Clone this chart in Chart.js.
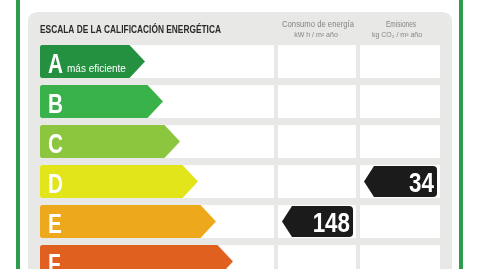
<!DOCTYPE html>
<html>
<head>
<meta charset="utf-8">
<script src="https://cdn.jsdelivr.net/npm/chart.js@4.4.1/dist/chart.umd.min.js"></script>
<style>
  html, body { margin: 0; padding: 0; background: #fff; overflow: hidden; }
  canvas { display: block; }
</style>
</head>
<body>
<canvas id="etiqueta" width="482" height="300"></canvas>
<script>
// Datos de la etiqueta
var clases = ['A', 'B', 'C', 'D', 'E', 'F'];
var longitudFlecha = [105, 123, 140, 158, 176, 193]; // largo de cada flecha
var consumo = [null, null, null, null, 148, null];   // kW h / m² año
var emisiones = [null, null, null, 34, null, null];  // kg CO2 / m² año

var coloresClase = ['#23913f', '#39b24a', '#8cc63e', '#e2e51a', '#eea81c', '#e0611f'];
var fuente = '"Liberation Sans", Arial, sans-serif';

// columnas de la tabla (x izquierda, x derecha)
var columnas = [[40, 274], [278, 356], [360, 440]];

function redondeado(ctx, x, y, w, h, r) {
    ctx.beginPath();
    ctx.moveTo(x + r, y);
    ctx.lineTo(x + w - r, y);
    ctx.quadraticCurveTo(x + w, y, x + w, y + r);
    ctx.lineTo(x + w, y + h);
    ctx.lineTo(x, y + h);
    ctx.lineTo(x, y + r);
    ctx.quadraticCurveTo(x, y, x + r, y);
    ctx.closePath();
}

// texto comprimido en horizontal (letra condensada)
function textoEstrecho(ctx, texto, x, y, factor) {
    ctx.save();
    ctx.translate(x, y);
    ctx.scale(factor, 1);
    ctx.fillText(texto, 0, 0);
    ctx.restore();
}

var dibujoEtiqueta = {
    id: 'dibujoEtiqueta',
    beforeDatasetsDraw: function (chart) {
        var ctx = chart.ctx;
        var yScale = chart.scales.y;
        var meta = chart.getDatasetMeta(0);
        ctx.save();
        // lineas verdes del marco
        ctx.fillStyle = '#2e9c4b';
        ctx.fillRect(16, 0, 4, chart.height);
        ctx.fillRect(459, 0, 4, chart.height);
        // panel gris
        ctx.fillStyle = '#e8e8e6';
        redondeado(ctx, 28, 12, 424, chart.height, 10);
        ctx.fill();
        // titulo
        ctx.fillStyle = '#2a2a2a';
        ctx.textBaseline = 'middle';
        ctx.textAlign = 'left';
        ctx.font = 'bold 10px ' + fuente;
        ctx.fillText('ESCALA DE LA CALIFICACIÓN ENERGÉTICA', 40, 30, 181);
        // cabeceras
        ctx.fillStyle = '#858585';
        ctx.textAlign = 'center';
        ctx.font = '9.5px ' + fuente;
        ctx.fillText('Consumo de energía', 318, 24, 72);
        ctx.fillText('Emisiones', 401, 24, 30);
        ctx.font = '7px ' + fuente;
        ctx.fillText('kW h / m² año', 316, 35, 44);
        ctx.fillText('kg CO₂ / m² año', 397, 35, 51);
        // celdas blancas
        ctx.fillStyle = '#ffffff';
        clases.forEach(function (c, i) {
            var yc = yScale.getPixelForValue(i);
            var h = meta.data[i].height;
            columnas.forEach(function (col) {
                ctx.fillRect(col[0], yc - h / 2, col[1] - col[0], h);
            });
        });
        ctx.restore();
    },
    afterDatasetsDraw: function (chart) {
        var ctx = chart.ctx;
        var yScale = chart.scales.y;
        var meta = chart.getDatasetMeta(0);
        ctx.save();
        // flechas de clase
        meta.data.forEach(function (bar, i) {
            var p = bar.getProps(['x', 'y', 'base', 'height'], true);
            var top = p.y - p.height / 2, bot = p.y + p.height / 2;
            var punta = p.height / 2 - 1;
            ctx.fillStyle = coloresClase[i];
            ctx.beginPath();
            ctx.moveTo(p.base + 2, top);
            ctx.lineTo(p.x - punta, top);
            ctx.lineTo(p.x, p.y);
            ctx.lineTo(p.x - punta, bot);
            ctx.lineTo(p.base + 2, bot);
            ctx.quadraticCurveTo(p.base, bot, p.base, bot - 2);
            ctx.lineTo(p.base, top + 2);
            ctx.quadraticCurveTo(p.base, top, p.base + 2, top);
            ctx.closePath();
            ctx.fill();
            ctx.fillStyle = '#ffffff';
            ctx.textAlign = 'left';
            ctx.textBaseline = 'alphabetic';
            ctx.font = 'bold 28px ' + fuente;
            textoEstrecho(ctx, clases[i], p.base + 8, p.y + 11.5, 0.74);
            if (i === 0) {
                ctx.font = '10px ' + fuente;
                ctx.fillText('más eficiente', p.base + 27, p.y + 10, 62);
            }
        });
        // indicadores negros
        function indicador(valores, col) {
            valores.forEach(function (v, i) {
                if (v === null) return;
                var yc = yScale.getPixelForValue(i);
                var h = meta.data[i].height - 2;
                var x0 = columnas[col][0] + 4, x1 = columnas[col][1] - 3;
                var top = yc - h / 2, bot = yc + h / 2, r = 4;
                ctx.fillStyle = '#1b1b1b';
                ctx.beginPath();
                ctx.moveTo(x0, yc);
                ctx.lineTo(x0 + 10, top);
                ctx.lineTo(x1 - r, top);
                ctx.quadraticCurveTo(x1, top, x1, top + r);
                ctx.lineTo(x1, bot - r);
                ctx.quadraticCurveTo(x1, bot, x1 - r, bot);
                ctx.lineTo(x0 + 10, bot);
                ctx.closePath();
                ctx.fill();
                ctx.fillStyle = '#ffffff';
                ctx.textAlign = 'right';
                ctx.textBaseline = 'alphabetic';
                ctx.font = 'bold 28px ' + fuente;
                textoEstrecho(ctx, String(v), x1 - 3, yc + 10, 0.8);
            });
        }
        indicador(consumo, 1);
        indicador(emisiones, 2);
        ctx.restore();
    }
};

var ctx = document.getElementById('etiqueta').getContext('2d');
var grafico = new Chart(ctx, {
    type: 'bar',
    data: {
        labels: clases,
        datasets: [{
            data: longitudFlecha,
            backgroundColor: 'rgba(0,0,0,0)',
            categoryPercentage: 1,
            barPercentage: 0.825
        }]
    },
    options: {
        indexAxis: 'y',
        responsive: false,
        animation: false,
        devicePixelRatio: 1,
        layout: { padding: { left: 40, right: 42, top: 41.5, bottom: 18.5 } },
        scales: {
            x: { display: false, min: 0, max: 400 },
            y: { display: false }
        },
        plugins: { legend: { display: false }, tooltip: { enabled: false } }
    },
    plugins: [dibujoEtiqueta]
});
</script>
</body>
</html>
